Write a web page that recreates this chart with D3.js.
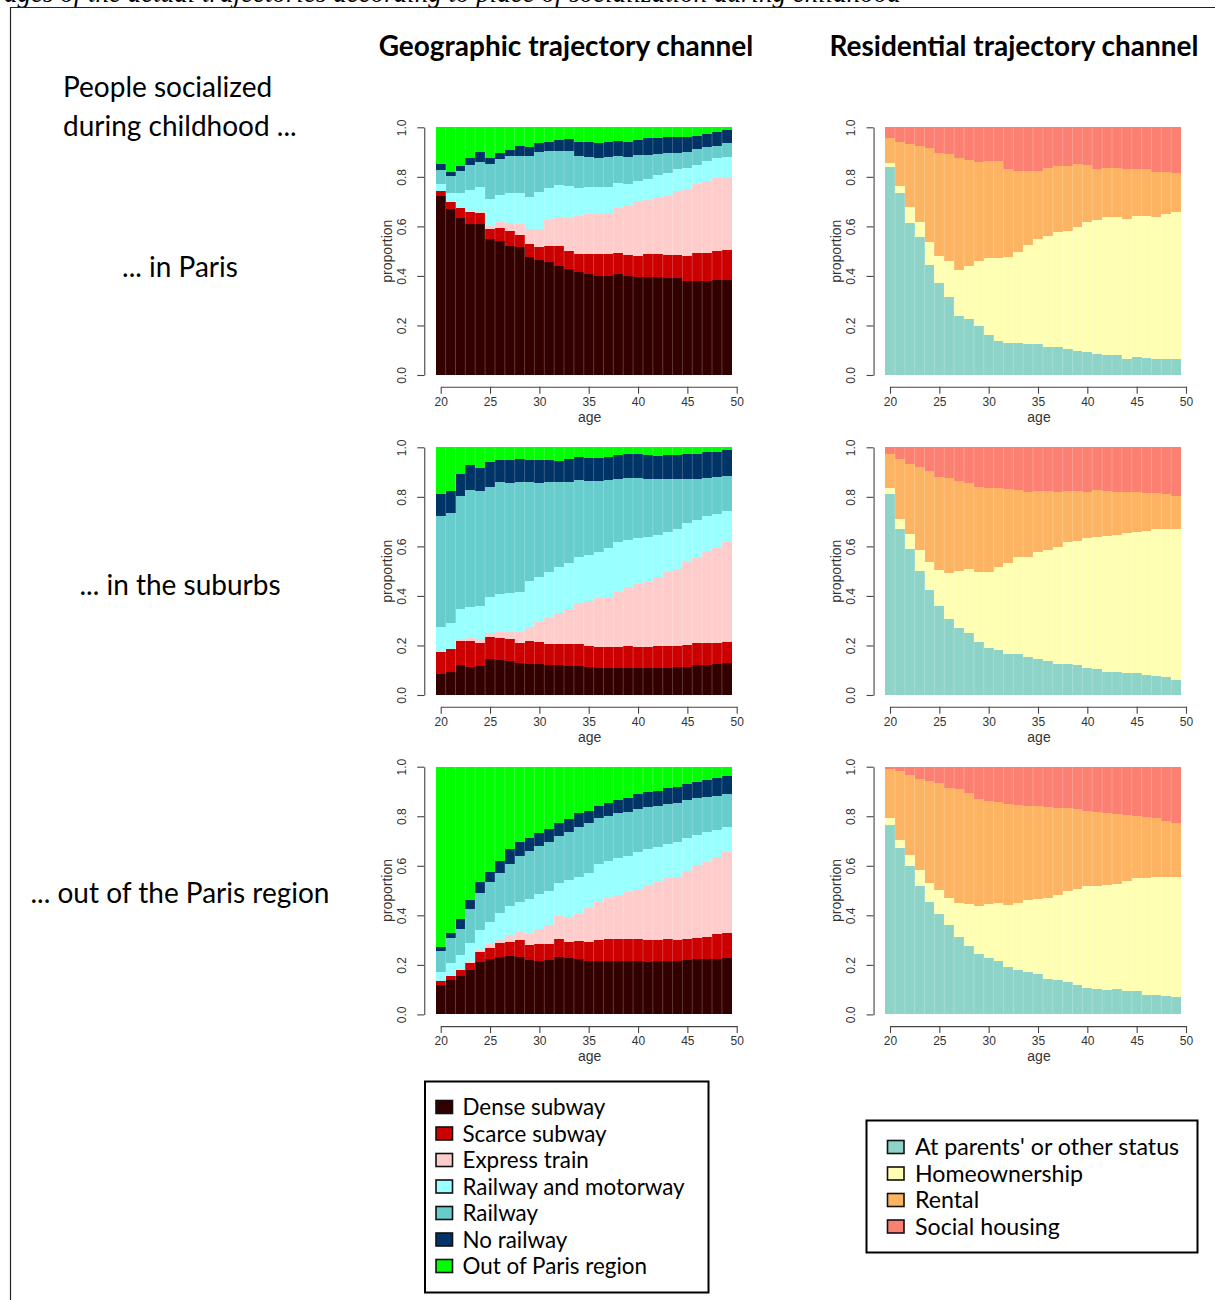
<!DOCTYPE html>
<html>
<head>
<meta charset="utf-8">
<script src="https://cdn.jsdelivr.net/npm/d3@7"></script>
<style>
  body { margin: 0; background: #fff; }
  svg { display: block; }
</style>
</head>
<body>
<svg id="fig" width="1215" height="1300"></svg>
<script>
// Ages covered by each sequence panel (one bar per age)
const ages = [20,21,22,23,24,25,26,27,28,29,30,31,32,33,34,35,36,37,38,39,40,41,42,43,44,45,46,47,48,49];
const xTicks = [20, 25, 30, 35, 40, 45, 50];
const yTicks = [0, 0.2, 0.4, 0.6, 0.8, 1.0];

const geoCategories = ["Dense subway", "Scarce subway", "Express train", "Railway and motorway", "Railway", "No railway", "Out of Paris region"];
const geoColors = ["#330000", "#CC0000", "#FFCCCC", "#99FFFF", "#66CCCC", "#003366", "#00FF00"];
const resCategories = ["At parents' or other status", "Homeownership", "Rental", "Social housing"];
const resColors = ["#8DD3C7", "#FFFFB3", "#FDB462", "#FB8072"];

const rowLabels = ["... in Paris", "... in the suburbs", "... out of the Paris region"];

// Geographic channel: share of each state by age, one row per category (geoCategories order)
const geoParis = [
  [.723,.670,.633,.610,.608,.549,.541,.522,.515,.478,.464,.458,.441,.427,.415,.406,.401,.401,.406,.401,.397,.397,.394,.392,.390,.381,.380,.380,.385,.385],
  [.021,.027,.040,.048,.045,.042,.054,.058,.052,.050,.051,.063,.080,.074,.075,.084,.089,.086,.085,.082,.085,.090,.093,.093,.095,.098,.111,.114,.116,.118],
  [0,0,0,0,.007,.012,.024,.032,.041,.060,.073,.105,.118,.132,.152,.160,.160,.168,.185,.202,.219,.220,.230,.238,.259,.272,.280,.291,.293,.295],
  [.026,.037,.061,.089,.100,.106,.108,.124,.128,.132,.150,.128,.128,.130,.112,.110,.110,.105,.098,.086,.084,.084,.091,.094,.088,.085,.077,.080,.081,.084],
  [.058,.071,.091,.101,.099,.143,.144,.148,.150,.166,.164,.152,.139,.141,.132,.122,.115,.122,.112,.111,.103,.097,.083,.078,.063,.063,.065,.054,.051,.053],
  [.023,.013,.019,.027,.043,.023,.024,.024,.039,.033,.033,.036,.043,.048,.056,.057,.060,.060,.059,.057,.061,.070,.067,.065,.065,.063,.052,.053,.057,.054],
  [.149,.182,.156,.125,.098,.125,.105,.092,.075,.081,.065,.058,.051,.048,.058,.061,.065,.058,.055,.061,.051,.042,.042,.040,.040,.038,.035,.028,.017,.011]
];
const geoSuburbs = [
  [.083,.094,.121,.114,.118,.145,.143,.136,.128,.125,.125,.120,.120,.118,.117,.113,.109,.109,.109,.110,.108,.108,.109,.109,.114,.114,.121,.121,.125,.131],
  [.089,.092,.098,.105,.091,.088,.087,.089,.083,.092,.089,.087,.087,.089,.088,.085,.086,.086,.086,.089,.087,.087,.089,.090,.084,.087,.088,.088,.086,.082],
  [0,0,.007,.012,.017,.016,.026,.031,.042,.056,.079,.105,.123,.140,.165,.183,.195,.202,.220,.236,.252,.263,.280,.299,.309,.335,.350,.372,.381,.403],
  [.104,.106,.121,.126,.135,.148,.150,.154,.162,.187,.185,.183,.188,.185,.189,.184,.189,.198,.201,.191,.186,.181,.168,.162,.162,.157,.148,.142,.139,.127],
  [.447,.444,.458,.471,.463,.441,.453,.445,.444,.399,.379,.364,.343,.329,.309,.299,.285,.273,.256,.252,.245,.234,.225,.212,.203,.179,.165,.155,.148,.141],
  [.087,.089,.087,.101,.094,.101,.090,.094,.093,.090,.092,.090,.085,.091,.092,.092,.094,.094,.097,.095,.095,.096,.095,.097,.097,.101,.101,.102,.104,.105],
  [.190,.175,.108,.071,.082,.061,.051,.051,.048,.051,.051,.051,.054,.048,.040,.044,.042,.038,.031,.027,.027,.031,.034,.031,.031,.027,.027,.020,.017,.011]
];
const geoOutside = [
  [.118,.139,.155,.179,.210,.222,.233,.237,.233,.219,.217,.219,.230,.226,.222,.215,.215,.215,.215,.217,.215,.213,.215,.215,.215,.218,.223,.223,.225,.229],
  [.017,.017,.024,.027,.040,.047,.054,.056,.067,.061,.066,.065,.073,.067,.074,.078,.085,.088,.089,.086,.088,.087,.085,.088,.085,.086,.087,.088,.098,.098],
  [0,0,0,.007,.010,.014,.013,.027,.034,.043,.062,.077,.095,.099,.108,.135,.155,.165,.178,.190,.202,.222,.233,.250,.256,.276,.293,.303,.314,.330],
  [.037,.050,.061,.074,.081,.091,.108,.119,.118,.143,.141,.138,.134,.150,.152,.144,.151,.151,.151,.148,.149,.146,.144,.133,.141,.131,.121,.121,.107,.098],
  [.084,.101,.105,.137,.148,.159,.164,.167,.187,.195,.194,.198,.188,.193,.199,.202,.185,.182,.179,.177,.174,.168,.164,.163,.158,.154,.151,.144,.139,.135],
  [.017,.023,.040,.038,.044,.043,.047,.060,.058,.052,.051,.051,.051,.054,.057,.048,.052,.054,.053,.057,.060,.060,.061,.066,.064,.064,.064,.067,.073,.074],
  [.727,.670,.615,.538,.467,.424,.381,.334,.303,.287,.269,.252,.229,.211,.188,.178,.157,.145,.135,.125,.112,.104,.098,.085,.081,.071,.061,.054,.044,.036]
];

// Residential channel: share of each housing status by age (resCategories order)
const resParis = [
  [.839,.736,.612,.559,.444,.370,.314,.238,.225,.198,.162,.139,.128,.131,.124,.124,.112,.112,.105,.098,.094,.085,.082,.081,.065,.071,.070,.066,.066,.063],
  [.018,.028,.065,.057,.092,.112,.146,.186,.216,.262,.309,.332,.350,.367,.401,.425,.451,.467,.478,.498,.522,.541,.557,.558,.565,.572,.572,.573,.583,.594],
  [.101,.178,.256,.309,.379,.416,.431,.451,.427,.401,.394,.393,.354,.327,.299,.275,.271,.265,.261,.256,.232,.207,.195,.195,.200,.187,.188,.181,.172,.157],
  [.042,.058,.067,.075,.085,.102,.109,.125,.132,.139,.135,.136,.168,.175,.176,.176,.166,.156,.156,.148,.152,.167,.166,.166,.170,.170,.170,.180,.179,.186]
];
const resSuburbs = [
  [.812,.670,.588,.502,.424,.359,.307,.272,.249,.213,.191,.182,.166,.166,.155,.145,.139,.125,.124,.121,.108,.104,.094,.092,.090,.090,.081,.078,.071,.061],
  [.025,.039,.062,.083,.112,.146,.187,.229,.260,.282,.307,.336,.366,.393,.404,.431,.446,.471,.492,.501,.527,.535,.548,.554,.563,.570,.583,.592,.598,.608],
  [.135,.244,.281,.334,.368,.374,.381,.364,.348,.346,.336,.316,.298,.269,.262,.248,.239,.225,.208,.202,.186,.189,.183,.175,.168,.158,.153,.147,.141,.136],
  [.028,.047,.069,.081,.096,.121,.125,.135,.143,.159,.166,.166,.170,.172,.179,.176,.176,.179,.176,.176,.179,.172,.175,.179,.179,.182,.183,.183,.190,.195]
];
const resOutside = [
  [.764,.673,.598,.518,.454,.404,.360,.313,.275,.243,.229,.214,.191,.178,.171,.162,.143,.137,.132,.120,.108,.104,.100,.102,.093,.094,.080,.080,.074,.070],
  [.030,.033,.045,.064,.077,.097,.110,.137,.172,.194,.218,.237,.250,.273,.290,.303,.325,.344,.367,.388,.410,.415,.422,.426,.445,.457,.469,.473,.479,.485],
  [.197,.276,.323,.367,.411,.432,.446,.458,.445,.432,.416,.407,.408,.394,.381,.377,.368,.351,.333,.321,.303,.299,.292,.283,.269,.251,.246,.238,.227,.216],
  [.009,.018,.034,.051,.058,.067,.084,.092,.108,.131,.137,.142,.151,.155,.158,.158,.164,.168,.168,.171,.179,.182,.186,.189,.193,.198,.205,.209,.220,.229]
];

const geoPanels = [geoParis, geoSuburbs, geoOutside];
const resPanels = [resParis, resSuburbs, resOutside];

const svg = d3.select("#fig");
const axisFont = "'Liberation Sans', Arial, Helvetica, sans-serif";
const textFont = "Lato, 'Open Sans', sans-serif";
const axisColor = "#444";

// Frame of the figure and the caption line above it (runs off the top edge)
svg.append("text")
  .attr("x", 4).attr("y", 2)
  .attr("font-family", "'Liberation Serif', 'Times New Roman', serif")
  .attr("font-style", "italic")
  .attr("font-size", 27)
  .attr("fill", "#000")
  .text("ages of the actual trajectories according to place of socialization during childhood");
svg.append("path")
  .attr("d", "M10.5,1300V7.5H1215")
  .attr("fill", "none").attr("stroke", "#222").attr("stroke-width", 1.2);

// Column titles
const titles = [{t: "Geographic trajectory channel", cx: 566}, {t: "Residential trajectory channel", cx: 1014}];
titles.forEach(d => {
  svg.append("text")
    .attr("x", d.cx).attr("y", 55.5)
    .attr("text-anchor", "middle")
    .attr("font-family", textFont).attr("font-weight", 700)
    .attr("font-size", 28).attr("fill", "#000")
    .text(d.t);
});

// Row captions
const cap = svg.append("g").attr("font-family", textFont).attr("font-size", 28).attr("fill", "#000");
cap.append("text").attr("x", 63).attr("y", 97).text("People socialized");
cap.append("text").attr("x", 63).attr("y", 136).text("during childhood ...");
const rowCapY = [277, 595, 903];
rowLabels.forEach((t, i) => {
  cap.append("text").attr("x", 180).attr("y", rowCapY[i]).attr("text-anchor", "middle").text(t);
});

function drawPanel(series, colors, xLeft, yTop) {
  const x = d3.scaleLinear().domain([20, 50]).range([xLeft, xLeft + 296]);
  const y = d3.scaleLinear().domain([0, 1]).range([yTop + 247.7, yTop]);
  const g = svg.append("g");

  const keys = series.map((_, k) => k);
  const table = ages.map((a, i) => {
    const row = {age: a};
    keys.forEach(k => row[k] = series[k][i]);
    return row;
  });
  const stacked = d3.stack().keys(keys)(table);

  g.selectAll("g.layer").data(stacked).join("g")
    .attr("class", "layer")
    .attr("fill", d => colors[d.key])
    .selectAll("rect").data(d => d).join("rect")
      .attr("x", d => x(d.data.age - 0.5))
      .attr("width", d => x(d.data.age + 0.5) - x(d.data.age - 0.5))
      .attr("y", d => y(d[1]))
      .attr("height", d => Math.max(0, y(d[0]) - y(d[1])))
      .attr("shape-rendering", "crispEdges");

  // thin light borders between adjacent bars
  g.selectAll("line.sep").data(ages.slice(1)).join("line")
    .attr("class", "sep")
    .attr("x1", a => x(a - 0.5)).attr("x2", a => x(a - 0.5))
    .attr("y1", y(1)).attr("y2", y(0))
    .attr("stroke", "#fff").attr("stroke-opacity", 0.28).attr("stroke-width", 0.8);

  // y axis (R style, detached from the bars)
  const yAxisX = x(19.5) - 11.5;
  const ya = g.append("g").attr("transform", `translate(${yAxisX},0)`)
    .call(d3.axisLeft(y).tickValues(yTicks).tickFormat(d3.format(".1f")).tickSize(7).tickSizeOuter(0));
  ya.select(".domain").attr("stroke", axisColor).attr("stroke-width", 1.1);
  ya.selectAll(".tick line").attr("stroke", axisColor).attr("stroke-width", 1.1);
  ya.selectAll(".tick text")
    .attr("transform", "rotate(-90)")
    .attr("x", 0).attr("y", -22.6).attr("dy", "0.35em")
    .attr("text-anchor", "middle")
    .attr("font-family", axisFont).attr("font-size", 12).attr("fill", "#333");

  // x axis
  const xAxisY = y(0) + 11.7;
  const xa = g.append("g").attr("transform", `translate(0,${xAxisY})`)
    .call(d3.axisBottom(x).tickValues(xTicks).tickSize(7).tickSizeOuter(0));
  xa.select(".domain").attr("stroke", axisColor).attr("stroke-width", 1.1);
  xa.selectAll(".tick line").attr("stroke", axisColor).attr("stroke-width", 1.1);
  xa.selectAll(".tick text")
    .attr("y", 15).attr("dy", "0.35em")
    .attr("font-family", axisFont).attr("font-size", 12).attr("fill", "#333");

  g.append("text")
    .attr("x", (x(20) + x(50)) / 2 + 1).attr("y", xAxisY + 30).attr("dy", "0.35em")
    .attr("text-anchor", "middle")
    .attr("font-family", axisFont).attr("font-size", 14).attr("fill", "#333")
    .text("age");
  g.append("text")
    .attr("transform", `translate(${yAxisX - 37.6},${(y(0) + y(1)) / 2}) rotate(-90)`)
    .attr("dy", "0.35em")
    .attr("text-anchor", "middle")
    .attr("font-family", axisFont).attr("font-size", 14).attr("fill", "#333")
    .text("proportion");
}

const rowTops = [127.3, 447.3, 766.7];
geoPanels.forEach((s, i) => drawPanel(s, geoColors, 440.7, rowTops[i]));
resPanels.forEach((s, i) => drawPanel(s, resColors, 890, rowTops[i]));

// Legends
function drawLegend(cats, colors, box, keyX, firstY, textX, fontSize) {
  const g = svg.append("g");
  g.append("rect")
    .attr("x", box.x).attr("y", box.y).attr("width", box.w).attr("height", box.h)
    .attr("fill", "#fff").attr("stroke", "#000").attr("stroke-width", 2);
  const items = g.selectAll("g.item").data(cats).join("g")
    .attr("class", "item")
    .attr("transform", (d, i) => `translate(0,${firstY + i * 26.5})`);
  items.append("rect")
    .attr("x", keyX).attr("y", -6.5).attr("width", 16.5).attr("height", 13)
    .attr("fill", (d, i) => colors[i]).attr("stroke", "#111").attr("stroke-width", 1.6);
  items.append("text")
    .attr("x", textX).attr("y", 0).attr("dy", "0.36em")
    .attr("font-family", textFont).attr("font-size", fontSize).attr("fill", "#000")
    .text(d => d);
}
drawLegend(geoCategories, geoColors, {x: 425, y: 1081.5, w: 283.5, h: 211}, 436, 1107, 462.5, 22.4);
drawLegend(resCategories, resColors, {x: 866.5, y: 1120.5, w: 331, h: 132}, 887.5, 1147, 915, 23.2);
</script>
</body>
</html>
